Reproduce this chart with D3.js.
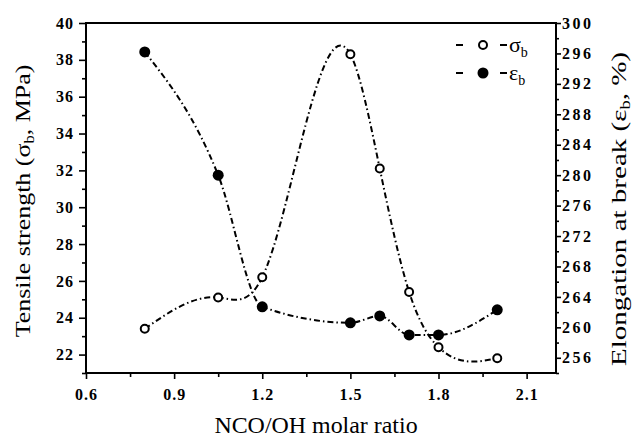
<!DOCTYPE html>
<html>
<head>
<meta charset="utf-8">
<script src="https://d3js.org/d3.v7.min.js"></script>
<style>
  body { margin: 0; background: #fff; }
  svg { display: block; font-family: "Liberation Serif", "Times New Roman", serif; }
  svg text { fill: #000; }
  .tick text { font-family: "Liberation Serif", "Times New Roman", serif; font-weight: bold; font-size: 16px; letter-spacing: 1px; }
  .right .tick text { letter-spacing: 2.5px; }
  .tick line { stroke: #000; stroke-width: 1.6; }
  .domain { display: none; }
</style>
</head>
<body>
<svg id="chart" width="634" height="437"></svg>
<script>
// NCO/OH molar ratio for each sample
var ratio = [0.8, 1.05, 1.2, 1.5, 1.6, 1.7, 1.8, 2.0];
// tensile strength (MPa), open circles
var sigma = [23.4, 25.1, 26.2, 38.3, 32.1, 25.4, 22.4, 21.8];
// elongation at break (%), filled markers
var elong = [296.2, 280.0, 262.7, 260.6, 261.5, 259.0, 259.0, 262.3];

var xTicks = [0.6, 0.9, 1.2, 1.5, 1.8, 2.1];
var leftTicks = [22, 24, 26, 28, 30, 32, 34, 36, 38, 40];
var rightTicks = [256, 260, 264, 268, 272, 276, 280, 284, 288, 292, 296, 300];

var svg = d3.select("svg#chart");

var plotLeft = 86, plotRight = 556, plotTop = 23, plotBottom = 373;

var x = d3.scaleLinear().domain([0.6, 2.2]).range([plotLeft, plotRight]);
var yL = d3.scaleLinear().domain([21, 40]).range([plotBottom, plotTop]);
var yR = d3.scaleLinear().domain([254, 300]).range([plotBottom, plotTop]);

// natural cubic spline with y as a function of x (like Origin's spline line)
function NaturalX(context) { this._context = context; }
NaturalX.prototype = {
    areaStart: function () { this._line = 0; },
    areaEnd: function () { this._line = NaN; },
    lineStart: function () { this._x = []; this._y = []; },
    lineEnd: function () {
        var xs = this._x, ys = this._y, n = xs.length, ctx = this._context;
        if (!n) return;
        this._line ? ctx.lineTo(xs[0], ys[0]) : ctx.moveTo(xs[0], ys[0]);
        if (n === 2) ctx.lineTo(xs[1], ys[1]);
        if (n > 2) {
            var h = [], M = new Array(n).fill(0), a = [], b = [], c = [], r = [], i;
            for (i = 0; i < n - 1; i++) h[i] = xs[i + 1] - xs[i];
            for (i = 1; i < n - 1; i++) {
                a[i] = h[i - 1]; b[i] = 2 * (h[i - 1] + h[i]); c[i] = h[i];
                r[i] = 6 * ((ys[i + 1] - ys[i]) / h[i] - (ys[i] - ys[i - 1]) / h[i - 1]);
            }
            // thomas algorithm
            for (i = 2; i < n - 1; i++) {
                var w = a[i] / b[i - 1];
                b[i] -= w * c[i - 1];
                r[i] -= w * r[i - 1];
            }
            for (i = n - 2; i >= 1; i--) {
                M[i] = (r[i] - (i < n - 2 ? c[i] * M[i + 1] : 0)) / b[i];
            }
            for (i = 0; i < n - 1; i++) {
                var s = (ys[i + 1] - ys[i]) / h[i];
                var m0 = s - h[i] * (2 * M[i] + M[i + 1]) / 6;
                var m1 = s + h[i] * (M[i] + 2 * M[i + 1]) / 6;
                ctx.bezierCurveTo(
                    xs[i] + h[i] / 3, ys[i] + m0 * h[i] / 3,
                    xs[i + 1] - h[i] / 3, ys[i + 1] - m1 * h[i] / 3,
                    xs[i + 1], ys[i + 1]);
            }
        }
        if (this._line || (this._line !== 0 && n === 1)) ctx.closePath();
        this._line = 1 - this._line;
    },
    point: function (px, py) { this._x.push(+px); this._y.push(+py); }
};
var curveNaturalX = function (context) { return new NaturalX(context); };

// minor ticks first
svg.append("g")
.attr("transform", `translate(0,${plotBottom})`)
.call(d3.axisBottom(x).tickValues(d3.range(0.75, 2.2, 0.3)).tickSize(4).tickFormat(""));

svg.append("g")
.attr("transform", `translate(${plotLeft},0)`)
.call(d3.axisLeft(yL).tickValues(d3.range(21, 40, 2)).tickSize(4).tickFormat(""));

svg.append("g")
.attr("transform", `translate(${plotRight},0)`)
.call(d3.axisRight(yR).tickValues(d3.range(254, 300, 4)).tickSize(3).tickFormat(""));

// major ticks
svg.append("g")
.attr("transform", `translate(0,${plotBottom})`)
.call(d3.axisBottom(x).tickValues(xTicks).tickSize(6).tickPadding(10).tickFormat(d3.format(".1f")));

svg.append("g")
.attr("transform", `translate(${plotLeft},0)`)
.call(d3.axisLeft(yL).tickValues(leftTicks).tickSize(7).tickPadding(5));

svg.append("g")
.attr("class", "right")
.attr("transform", `translate(${plotRight},0)`)
.call(d3.axisRight(yR).tickValues(rightTicks).tickSize(5).tickPadding(1));

// frame
svg.append("rect")
.attr("x", plotLeft)
.attr("y", plotTop)
.attr("width", plotRight - plotLeft)
.attr("height", plotBottom - plotTop)
.attr("fill", "none")
.attr("stroke", "#000")
.attr("stroke-width", 2);

var dash = "6,3,1.5,3";

var lineSigma = d3.line()
.x((d, i) => x(ratio[i]))
.y(d => yL(d))
.curve(curveNaturalX);

var lineElong = d3.line()
.x((d, i) => x(ratio[i]))
.y(d => yR(d))
.curve(d3.curveMonotoneX);

svg.append("path")
.datum(sigma)
.attr("d", lineSigma)
.attr("fill", "none")
.attr("stroke", "#000")
.attr("stroke-width", 2)
.attr("stroke-dasharray", dash);

svg.append("path")
.datum(elong)
.attr("d", lineElong)
.attr("fill", "none")
.attr("stroke", "#000")
.attr("stroke-width", 2)
.attr("stroke-dasharray", dash);

svg.append("g")
.selectAll("circle")
.data(sigma)
.enter().append("circle")
.attr("cx", (d, i) => x(ratio[i]))
.attr("cy", d => yL(d))
.attr("r", 4)
.attr("fill", "#fff")
.attr("stroke", "#000")
.attr("stroke-width", 2);

svg.append("g")
.selectAll("circle")
.data(elong)
.enter().append("circle")
.attr("cx", (d, i) => x(ratio[i]))
.attr("cy", d => yR(d))
.attr("r", 5.5)
.attr("fill", "#000");

// legend
var legend = svg.append("g");
[{ sym: "σ", open: true, y: 45 }, { sym: "ε", open: false, y: 73 }].forEach(function (item) {
    legend.append("line")
    .attr("x1", 456).attr("x2", 463)
    .attr("y1", item.y).attr("y2", item.y)
    .attr("stroke", "#000").attr("stroke-width", 2);
    legend.append("line")
    .attr("x1", 500).attr("x2", 507)
    .attr("y1", item.y).attr("y2", item.y)
    .attr("stroke", "#000").attr("stroke-width", 2);
    legend.append("circle")
    .attr("cx", 483).attr("cy", item.y)
    .attr("r", item.open ? 4 : 5.5)
    .attr("fill", item.open ? "#fff" : "#000")
    .attr("stroke", "#000")
    .attr("stroke-width", item.open ? 2 : 0);
    var t = legend.append("text")
    .attr("x", 509)
    .attr("y", item.y + 7)
    .attr("font-size", 22)
    .text(item.sym);
    t.append("tspan").attr("font-size", 14).attr("dy", 5).text("b");
});

// axis titles
var titleL = svg.append("text")
.attr("transform", "translate(30,201) rotate(-90) scale(1.18,1)")
.attr("text-anchor", "middle")
.attr("font-size", 22)
.text("Tensile strength (σ");
titleL.append("tspan").attr("font-size", 14).attr("dy", 4).text("b");
titleL.append("tspan").attr("dy", -4).text(", MPa)");

var titleR = svg.append("text")
.attr("transform", "translate(626,209) rotate(-90) scale(1.32,1)")
.attr("text-anchor", "middle")
.attr("font-size", 22)
.text("Elongation at break (ε");
titleR.append("tspan").attr("font-size", 14).attr("dy", 4).text("b");
titleR.append("tspan").attr("dy", -4).text(", %)");

svg.append("text")
.attr("transform", "translate(316,433) scale(1.04,1)")
.attr("text-anchor", "middle")
.attr("font-size", 23)
.text("NCO/OH molar ratio");
</script>
</body>
</html>
